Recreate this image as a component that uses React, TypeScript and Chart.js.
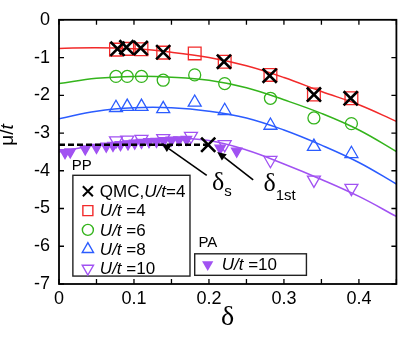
import React, { useEffect, useRef } from 'react';
import { Chart, registerables } from 'chart.js';
Chart.register(...registerables);

// ---- data ----
const qmcX = [0.078, 0.090, 0.109, 0.139, 0.220, 0.281, 0.340, 0.389, 0.199];
const qmcY = [-0.77, -0.73, -0.75, -0.86, -1.11, -1.48, -1.98, -2.08, -3.31];

const u4X = [0.076, 0.091, 0.110, 0.139, 0.181, 0.221, 0.282, 0.340, 0.390];
const u4Y = [-0.79, -0.77, -0.78, -0.87, -0.89, -1.11, -1.46, -1.98, -2.08];
const u6X = [0.076, 0.091, 0.110, 0.139, 0.181, 0.221, 0.282, 0.340, 0.390];
const u6Y = [-1.50, -1.50, -1.50, -1.60, -1.46, -1.69, -2.08, -2.60, -2.75];
const u8X = [0.076, 0.091, 0.110, 0.139, 0.181, 0.221, 0.282, 0.340, 0.390];
const u8Y = [-2.33, -2.30, -2.30, -2.36, -2.19, -2.41, -2.80, -3.36, -3.55];
const u10X = [0.076, 0.091, 0.110, 0.139, 0.176, 0.221, 0.282, 0.340, 0.390];
const u10Y = [-3.20, -3.18, -3.16, -3.14, -3.08, -3.30, -3.72, -4.24, -4.46];

const paX = [0.008, 0.015, 0.035, 0.050, 0.063, 0.072, 0.082, 0.092, 0.101, 0.110, 0.120, 0.130, 0.140, 0.150, 0.160, 0.170, 0.215, 0.237];
const paY = [-3.52, -3.50, -3.42, -3.38, -3.35, -3.33, -3.31, -3.29, -3.27, -3.25, -3.23, -3.22, -3.20, -3.19, -3.18, -3.17, -3.40, -3.48];

const fitX = [0, 0.05, 0.10, 0.15, 0.20, 0.25, 0.30, 0.35, 0.40, 0.45];
const fit4 = [-0.76, -0.74, -0.77, -0.86, -1.00, -1.22, -1.53, -1.90, -2.25, -2.69];
const fit6 = [-1.69, -1.55, -1.50, -1.52, -1.60, -1.80, -2.12, -2.48, -2.92, -3.49];
const fit8 = [-2.62, -2.42, -2.33, -2.33, -2.42, -2.60, -2.92, -3.32, -3.78, -4.35];
const fit10 = [-3.50, -3.32, -3.20, -3.13, -3.20, -3.45, -3.82, -4.23, -4.68, -5.21];

const dashX = [0, 0.2];
const dashY = [-3.31, -3.31];

const xTicks = [0, 0.05, 0.1, 0.15, 0.2, 0.25, 0.3, 0.35, 0.4, 0.45];
const yTicks = [0, -1, -2, -3, -4, -5, -6, -7];

// arrows: [fromX, fromY, toX, toY]
const arrowS = [0.197, -4.12, 0.137, -3.28];
const arrow1st = [0.259, -4.24, 0.211, -3.50];
const labelS = [0.204, -4.51];
const label1st = [0.2726, -4.53];
const ppLabel = [0.017, -3.88];
const paLabel = [0.186, -5.91];
const legend1Box = [0.0185, -4.12, 0.1747, -6.79];
const legend2Box = [0.181, -6.20, 0.330, -6.77];

const RED = '#f22a2a';
const GREEN = '#34b41c';
const BLUE = '#2b5cff';
const PURPLE = '#a152f2';

const pts = (xs: number[], ys: number[]) => xs.map((x, i) => ({ x, y: ys[i] }));

function drawSym(ctx: CanvasRenderingContext2D, kind: string, x: number, y: number, color: string) {
  ctx.save();
  ctx.strokeStyle = color;
  ctx.fillStyle = color;
  ctx.lineWidth = 1.4;
  ctx.beginPath();
  if (kind === 'x') {
    ctx.lineWidth = 2;
    const s = 5;
    ctx.moveTo(x - s, y - s); ctx.lineTo(x + s, y + s);
    ctx.moveTo(x + s, y - s); ctx.lineTo(x - s, y + s);
    ctx.stroke();
  } else if (kind === 'sq') {
    ctx.rect(x - 5, y - 5, 10, 10); ctx.stroke();
  } else if (kind === 'o') {
    ctx.arc(x, y, 5.5, 0, Math.PI * 2); ctx.stroke();
  } else if (kind === 'up') {
    const r = 6.5;
    ctx.moveTo(x, y - r); ctx.lineTo(x + r * 0.866, y + r / 2); ctx.lineTo(x - r * 0.866, y + r / 2); ctx.closePath(); ctx.stroke();
  } else if (kind === 'down' || kind === 'downf') {
    const r = 6.5;
    ctx.moveTo(x, y + r); ctx.lineTo(x + r * 0.866, y - r / 2); ctx.lineTo(x - r * 0.866, y - r / 2); ctx.closePath();
    if (kind === 'downf') ctx.fill(); else ctx.stroke();
  }
  ctx.restore();
}

function drawRich(ctx: CanvasRenderingContext2D, parts: [string, boolean][], x: number, y: number, size: number, family: string) {
  let cx = x;
  for (const [t, it] of parts) {
    ctx.font = `${it ? 'italic ' : ''}${size}px ${family}`;
    ctx.fillText(t, cx, y);
    cx += ctx.measureText(t).width;
  }
}

const overlay = {
  id: 'overlay',
  afterDatasetsDraw(chart: any) {
    const { ctx, chartArea: a, scales } = chart;
    const px = (v: number) => scales.x.getPixelForValue(v);
    const py = (v: number) => scales.y.getPixelForValue(v);
    ctx.save();
    ctx.strokeStyle = '#000';
    ctx.lineWidth = 1.8;
    ctx.strokeRect(a.left, a.top, a.right - a.left, a.bottom - a.top);
    ctx.lineWidth = 1.3;
    ctx.beginPath();
    for (const t of xTicks) {
      const X = px(t);
      ctx.moveTo(X, a.bottom); ctx.lineTo(X, a.bottom - 5);
      ctx.moveTo(X, a.top); ctx.lineTo(X, a.top + 5);
    }
    for (const t of yTicks) {
      const Y = py(t);
      ctx.moveTo(a.left, Y); ctx.lineTo(a.left + 5, Y);
      ctx.moveTo(a.right, Y); ctx.lineTo(a.right - 5, Y);
    }
    ctx.stroke();

    // arrows
    const arrow = (ar: number[]) => {
      const x1 = px(ar[0]), y1 = py(ar[1]), x2 = px(ar[2]), y2 = py(ar[3]);
      const ang = Math.atan2(y2 - y1, x2 - x1);
      const hl = 9, hw = 4;
      const bx = x2 - Math.cos(ang) * hl, by = y2 - Math.sin(ang) * hl;
      ctx.strokeStyle = '#000';
      ctx.lineWidth = 1.6;
      ctx.beginPath(); ctx.moveTo(x1, y1); ctx.lineTo(bx, by); ctx.stroke();
      ctx.fillStyle = '#000';
      ctx.beginPath();
      ctx.moveTo(x2, y2);
      ctx.lineTo(bx + Math.sin(ang) * hw, by - Math.cos(ang) * hw);
      ctx.lineTo(bx - Math.sin(ang) * hw, by + Math.cos(ang) * hw);
      ctx.closePath(); ctx.fill();
    };
    arrow(arrowS);
    arrow(arrow1st);

    ctx.fillStyle = '#000';
    ctx.textBaseline = 'alphabetic';
    ctx.textAlign = 'left';
    // delta labels
    ctx.font = '26px "Liberation Serif", serif';
    let lx = px(labelS[0]), ly = py(labelS[1]);
    ctx.fillText('δ', lx, ly);
    let w = ctx.measureText('δ').width;
    ctx.font = '15px "Liberation Sans", Arial, sans-serif';
    ctx.fillText('s', lx + w, ly + 6);
    ctx.font = '26px "Liberation Serif", serif';
    lx = px(label1st[0]); ly = py(label1st[1]);
    ctx.fillText('δ', lx, ly);
    w = ctx.measureText('δ').width;
    ctx.font = '15px "Liberation Sans", Arial, sans-serif';
    ctx.fillText('1st', lx + w, ly + 9);

    // axis titles
    ctx.font = '28px "Liberation Serif", serif';
    ctx.textAlign = 'center';
    ctx.fillText('δ', (a.left + a.right) / 2, 325);
    ctx.save();
    ctx.translate(13, 135);
    ctx.rotate(-Math.PI / 2);
    ctx.textAlign = 'left';
    ctx.font = '19px "Liberation Sans", Arial, sans-serif';
    const m1 = ctx.measureText('μ/').width;
    ctx.font = 'italic 19px "Liberation Sans", Arial, sans-serif';
    const m2 = ctx.measureText('t').width;
    const start = -(m1 + m2) / 2;
    ctx.font = '19px "Liberation Sans", Arial, sans-serif';
    ctx.fillText('μ/', start, 0);
    ctx.font = 'italic 19px "Liberation Sans", Arial, sans-serif';
    ctx.fillText('t', start + m1, 0);
    ctx.restore();

    // PP / PA
    ctx.textAlign = 'left';
    ctx.textBaseline = 'middle';
    ctx.font = '15px "Liberation Sans", Arial, sans-serif';
    ctx.fillText('PP', px(ppLabel[0]), py(ppLabel[1]));
    ctx.fillText('PA', px(paLabel[0]), py(paLabel[1]));

    // legend 1
    const fam = '"Liberation Sans", Arial, sans-serif';
    const b1 = legend1Box.map((v, i) => (i % 2 === 0 ? px(v) : py(v)));
    ctx.fillStyle = '#fff';
    ctx.fillRect(b1[0], b1[1], b1[2] - b1[0], b1[3] - b1[1]);
    ctx.strokeStyle = '#222';
    ctx.lineWidth = 1.4;
    ctx.strokeRect(b1[0], b1[1], b1[2] - b1[0], b1[3] - b1[1]);
    const rows: [string, string, [string, boolean][]][] = [
      ['x', '#000', [['QMC,', false], ['U/t', true], ['=4', false]]],
      ['sq', RED, [['U/t', true], [' =4', false]]],
      ['o', GREEN, [['U/t', true], [' =6', false]]],
      ['up', BLUE, [['U/t', true], [' =8', false]]],
      ['down', PURPLE, [['U/t', true], [' =10', false]]],
    ];
    rows.forEach((r, i) => {
      const yy = b1[1] + 16 + i * 19.3;
      drawSym(ctx, r[0], b1[0] + 15, yy, r[1]);
      ctx.fillStyle = '#000';
      drawRich(ctx, r[2], b1[0] + 27, yy + 1, 17, fam);
    });
    // legend 2
    const b2 = legend2Box.map((v, i) => (i % 2 === 0 ? px(v) : py(v)));
    ctx.fillStyle = '#fff';
    ctx.fillRect(b2[0], b2[1], b2[2] - b2[0], b2[3] - b2[1]);
    ctx.strokeRect(b2[0], b2[1], b2[2] - b2[0], b2[3] - b2[1]);
    const y2 = (b2[1] + b2[3]) / 2;
    drawSym(ctx, 'downf', b2[0] + 13, y2, PURPLE);
    ctx.fillStyle = '#000';
    drawRich(ctx, [['U/t', true], [' =10', false]], b2[0] + 27, y2 + 1, 17, fam);
    ctx.restore();
  },
};

export default function App() {
  const ref = useRef<HTMLCanvasElement>(null);
  useEffect(() => {
    if (!ref.current) return;
    Chart.defaults.font.family = '"Liberation Sans", Arial, sans-serif';
    const fitDs = (ys: number[], color: string) => ({
      type: 'line' as const,
      data: pts(fitX, ys),
      borderColor: color,
      borderWidth: 1.5,
      pointRadius: 0,
      tension: 0.4,
      fill: false,
    });
    const mk = (xs: number[], ys: number[], color: string, style: string, r: number, rot = 0, filled = false) => ({
      type: 'scatter' as const,
      data: pts(xs, ys),
      borderColor: color,
      backgroundColor: filled ? color : 'rgba(0,0,0,0)',
      pointStyle: style,
      pointRadius: r,
      pointRotation: rot,
      pointBorderWidth: 1.3,
      showLine: false,
    });
    const chart = new Chart(ref.current, {
      type: 'scatter',
      data: {
        datasets: [
          { ...mk(qmcX, qmcY, '#000', 'crossRot', 10), pointBorderWidth: 2.6 },
          {
            type: 'line' as const,
            data: pts(dashX, dashY),
            borderColor: '#000',
            borderWidth: 2.6,
            borderDash: [6, 3],
            pointRadius: 0,
            fill: false,
          },
          mk(paX, paY, PURPLE, 'triangle', 6, 180, true),
          mk(u4X, u4Y, RED, 'rect', 9),
          mk(u6X, u6Y, GREEN, 'circle', 6),
          mk(u8X, u8Y, BLUE, 'triangle', 7.5),
          mk(u10X, u10Y, PURPLE, 'triangle', 7.5, 180),
          fitDs(fit4, RED),
          fitDs(fit6, GREEN),
          fitDs(fit8, BLUE),
          fitDs(fit10, PURPLE),
        ] as any,
      },
      options: {
        animation: false,
        responsive: true,
        maintainAspectRatio: false,
        layout: { padding: { top: 13, right: 10, left: 0, bottom: 0 } },
        plugins: { legend: { display: false }, tooltip: { enabled: false } },
        scales: {
          x: {
            type: 'linear',
            min: 0,
            max: 0.45,
            grid: { display: false, drawTicks: false },
            border: { display: false },
            afterFit: (s: any) => { s.height = 54; },
            afterBuildTicks: (s: any) => { s.ticks = xTicks.map((v) => ({ value: v })); },
            ticks: {
              autoSkip: false,
              maxRotation: 0,
              padding: 4,
              color: '#000',
              font: { size: 18 },
              callback: (v: any) => {
                const r = Math.round(Number(v) * 100) / 100;
                return Math.abs(r * 10 - Math.round(r * 10)) < 1e-6 ? String(r) : '';
              },
            },
          },
          y: {
            type: 'linear',
            min: -7,
            max: 0,
            grid: { display: false, drawTicks: false },
            border: { display: false },
            afterFit: (s: any) => { s.width = 59; },
            afterBuildTicks: (s: any) => { s.ticks = yTicks.map((v) => ({ value: v })); },
            ticks: {
              autoSkip: false,
              padding: 9,
              color: '#000',
              font: { size: 18 },
              callback: (v: any) => String(v),
            },
          },
        },
      },
      plugins: [overlay],
    });
    return () => chart.destroy();
  }, []);
  return (
    <div style={{ position: 'absolute', left: 0, top: 0, width: 409, height: 338, background: '#fff' }}>
      <canvas ref={ref} />
    </div>
  );
}
